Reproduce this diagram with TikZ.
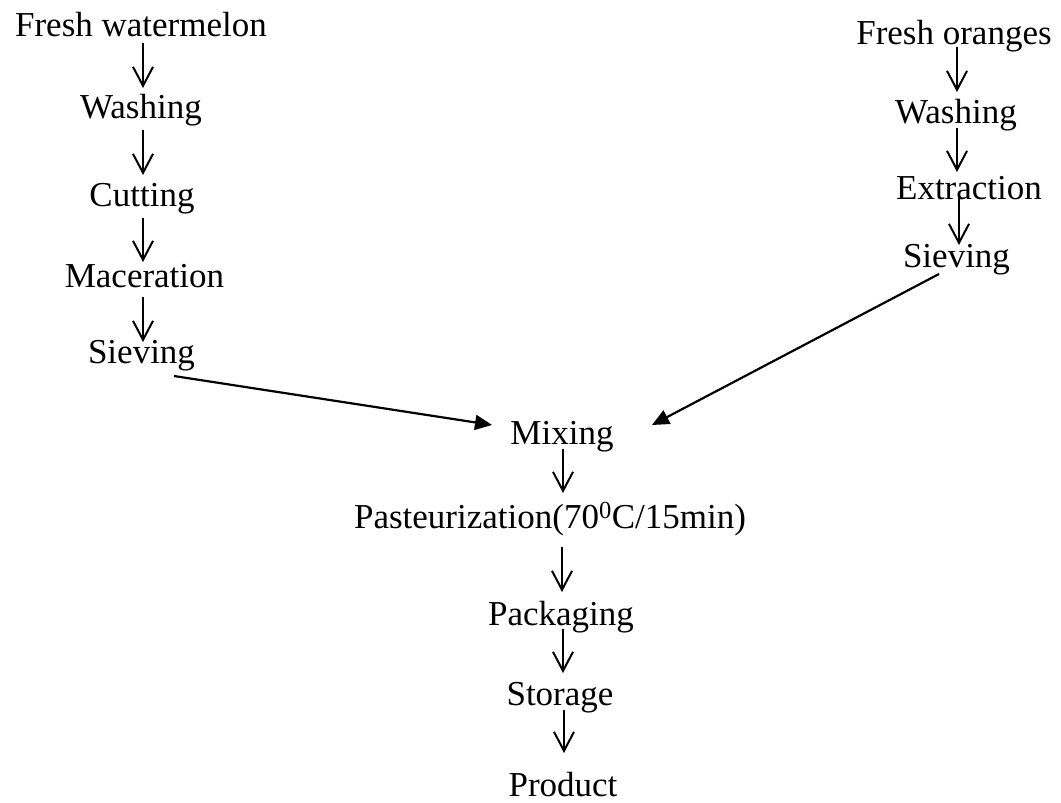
\documentclass[tikz,border=0pt]{standalone}
\usepackage{fontspec}
\setmainfont{Liberation Serif}
\usetikzlibrary{arrows.meta,calc}
\begin{document}
\begin{tikzpicture}[x=1pt,y=-1pt,
  lbl/.style={anchor=base,inner sep=0pt,font=\fontsize{35}{40}\selectfont},
  stepArrow/.style={line width=2pt,-{Straight Barb[length=19pt,width=20pt,line width=2pt]}},
  mergeArrow/.style={line width=2.2pt,-{Triangle[length=17pt,width=15pt]}}]
\useasboundingbox (0,0) rectangle (1061,803);
% left column
\node[lbl] (wm)  at (141,36)    {Fresh watermelon};
\node[lbl] (wl)  at (141,118)   {Washing};
\node[lbl] (cut) at (142,206)   {Cutting};
\node[lbl] (mac) at (144.5,287) {Maceration};
\node[lbl] (sl)  at (141.5,363) {Sieving};
% right column
\node[lbl] (fo)  at (954,45)    {Fresh oranges};
\node[lbl] (wr)  at (956,123)   {Washing};
\node[lbl] (ex)  at (969,199)   {Extraction};
\node[lbl] (sr)  at (956.5,267) {Sieving};
% middle column
\node[lbl] (mx)   at (562,444) {Mixing};
\node[lbl] (past) at (550,528) {Pasteurization(70\textsuperscript{0}C/15min)};
\node[lbl] (pack) at (561,625) {Packaging};
\node[lbl] (sto)  at (560,705) {Storage};
\node[lbl] (prod) at (563,796) {Product};
% left arrows
\draw[stepArrow] ($(wm.base)+(2,7)$)      -- ($(wl.base)+(2,-30)$);
\draw[stepArrow] ($(wl.base)+(2,12)$)     -- ($(cut.base)+(1,-31)$);
\draw[stepArrow] ($(cut.base)+(1,12)$)    -- ($(mac.base)+(-1.5,-25)$);
\draw[stepArrow] ($(mac.base)+(-1.5,10)$) -- ($(sl.base)+(1.5,-21)$);
% right arrows
\draw[stepArrow] ($(fo.base)+(3,2)$)      -- ($(wr.base)+(1,-31)$);
\draw[stepArrow] ($(wr.base)+(1,5)$)      -- ($(ex.base)+(-12,-27)$);
\draw[stepArrow] ($(ex.base)+(-10,-2)$)   -- ($(sr.base)+(2.5,-22)$);
% middle arrows
\draw[stepArrow] ($(mx.base)+(1,5)$)      -- ($(past.base)+(13,-35)$);
\draw[stepArrow] ($(past.base)+(12,19)$)  -- ($(pack.base)+(1,-33)$);
\draw[stepArrow] ($(pack.base)+(2,4)$)    -- ($(sto.base)+(3,-32)$);
\draw[stepArrow] ($(sto.base)+(4,5)$)     -- ($(prod.base)+(1,-43)$);
% merge arrows
\draw[mergeArrow] ($(sl.base)+(32.5,13)$)  -- ($(mx.base)+(-70,-19)$);
\draw[mergeArrow] ($(sr.base)+(-17.5,7)$)  -- ($(mx.base)+(90,-19)$);
\end{tikzpicture}
\end{document}
